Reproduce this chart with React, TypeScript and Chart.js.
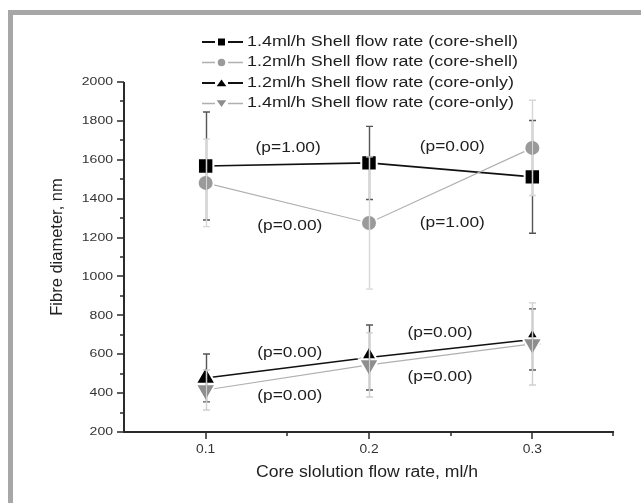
import React, { useEffect, useRef } from "react";
import { Chart, registerables } from "chart.js";

Chart.register(...registerables);

// ---------- data ----------
const xValues = [0.1, 0.2, 0.3];

const seriesLabels = [
  "1.4ml/h Shell flow rate (core-shell)",
  "1.2ml/h Shell flow rate (core-shell)",
  "1.2ml/h Shell flow rate (core-only)",
  "1.4ml/h Shell flow rate (core-only)",
];

const shell14CoreShell = [1568, 1584, 1512];
const shell14CoreShellErr = [278, 188, 290];
const shell12CoreShell = [1481, 1275, 1661];
const shell12CoreShellErr = [225, 340, 245];
const shell12CoreOnly = [478, 583, 676];
const shell12CoreOnlyErr = [123, 167, 157];
const shell14CoreOnly = [416, 545, 653];
const shell14CoreOnlyErr = [103, 165, 211];

const yTickValues = [200, 400, 600, 800, 1000, 1200, 1400, 1600, 1800, 2000];
const yMinorValues = [300, 500, 700, 900, 1100, 1300, 1500, 1700, 1900];
const xTickValues = [0.1, 0.2, 0.3];
const xMinorValues = [0.15, 0.25, 0.35];

const pLabels = ["(p=1.00)", "(p=0.00)", "(p=0.00)", "(p=1.00)", "(p=0.00)", "(p=0.00)", "(p=0.00)", "(p=0.00)"];
const pLabelX = [0.1505, 0.251, 0.1515, 0.251, 0.2435, 0.1515, 0.2435, 0.1515];
const pLabelY = [1660, 1666, 1259, 1275, 709, 606, 483, 385];

const xTitle = "Core slolution flow rate, ml/h";
const yTitle = "Fibre diameter, nm";

// ---------- styles ----------
const FONT = "'Liberation Sans', Arial, Helvetica, sans-serif";
const seriesStyles = [
  { line: "#111111", lineWidth: 1.6, fill: "#000000", shape: "rect", radius: 10.9, errColor: "#555555" },
  { line: "#b0b0b0", lineWidth: 1.2, fill: "#9a9a9a", shape: "circle", radius: 8, errColor: "#d6d6d6" },
  { line: "#111111", lineWidth: 1.6, fill: "#000000", shape: "triangle", radius: 11.5, errColor: "#555555" },
  { line: "#b0b0b0", lineWidth: 1.2, fill: "#8e8e8e", shape: "triangleDown", radius: 11.5, errColor: "#cfcfcf" },
];

const seriesValues = [shell14CoreShell, shell12CoreShell, shell12CoreOnly, shell14CoreOnly];
const seriesErrors = [shell14CoreShellErr, shell12CoreShellErr, shell12CoreOnlyErr, shell14CoreOnlyErr];

function drawText(ctx: CanvasRenderingContext2D, text: string, x: number, y: number, font: string, sx: number, align: string, color: string) {
  ctx.save();
  ctx.font = font;
  ctx.fillStyle = color;
  ctx.textBaseline = "middle";
  ctx.textAlign = "left";
  const w = ctx.measureText(text).width * sx;
  const left = align === "center" ? x - w / 2 : align === "right" ? x - w : x;
  ctx.translate(left, y);
  ctx.scale(sx, 1);
  ctx.fillText(text, 0, 0);
  ctx.restore();
}

function drawMarker(ctx: CanvasRenderingContext2D, shape: string, x: number, y: number, s: number, color: string) {
  ctx.save();
  ctx.fillStyle = color;
  ctx.beginPath();
  if (shape === "rect") {
    ctx.rect(x - s / 2, y - s / 2, s, s);
  } else if (shape === "circle") {
    ctx.arc(x, y, s / 2, 0, Math.PI * 2);
  } else if (shape === "triangle") {
    ctx.moveTo(x, y - s * 0.45);
    ctx.lineTo(x + s * 0.6, y + s * 0.4);
    ctx.lineTo(x - s * 0.6, y + s * 0.4);
    ctx.closePath();
  } else {
    ctx.moveTo(x, y + s * 0.45);
    ctx.lineTo(x + s * 0.6, y - s * 0.4);
    ctx.lineTo(x - s * 0.6, y - s * 0.4);
    ctx.closePath();
  }
  ctx.fill();
  ctx.restore();
}

const framePlugin = {
  id: "frame",
  beforeDraw(chart: any) {
    const ctx = chart.ctx as CanvasRenderingContext2D;
    ctx.save();
    ctx.fillStyle = "#ffffff";
    ctx.fillRect(0, 0, chart.width, chart.height);
    ctx.fillStyle = "#a7a7a7";
    ctx.fillRect(8, 10, chart.width - 8, 5);
    ctx.fillRect(8, 10, 5, chart.height - 10);
    ctx.restore();
  },
};

const axesPlugin = {
  id: "axesDraw",
  afterDraw(chart: any) {
    const ctx = chart.ctx as CanvasRenderingContext2D;
    const xs = chart.scales.x;
    const ys = chart.scales.y;
    const area = chart.chartArea;
    ctx.save();
    ctx.strokeStyle = "#2a2a2a";
    ctx.lineWidth = 2;
    ctx.lineCap = "butt";
    ctx.beginPath();
    ctx.moveTo(area.left, area.top);
    ctx.lineTo(area.left, area.bottom);
    ctx.lineTo(area.right, area.bottom);
    ctx.stroke();
    ctx.lineWidth = 1.5;
    ctx.beginPath();
    yTickValues.forEach((v) => {
      const py = Math.round(ys.getPixelForValue(v));
      ctx.moveTo(area.left, py);
      ctx.lineTo(area.left - 7, py);
    });
    yMinorValues.forEach((v) => {
      const py = Math.round(ys.getPixelForValue(v));
      ctx.moveTo(area.left, py);
      ctx.lineTo(area.left - 4, py);
    });
    xTickValues.forEach((v) => {
      const px = Math.round(xs.getPixelForValue(v));
      ctx.moveTo(px, area.bottom);
      ctx.lineTo(px, area.bottom + 7);
    });
    xMinorValues.forEach((v) => {
      const px = Math.round(xs.getPixelForValue(v)) - (v >= 0.35 ? 1 : 0);
      ctx.moveTo(px, area.bottom);
      ctx.lineTo(px, area.bottom + 4);
    });
    ctx.stroke();
    ctx.restore();

    const tickFont = `11.5px ${FONT}`;
    yTickValues.forEach((v) => {
      drawText(ctx, String(v), area.left - 11, ys.getPixelForValue(v), tickFont, 1.22, "right", "#333333");
    });
    xTickValues.forEach((v) => {
      drawText(ctx, v.toFixed(1), xs.getPixelForValue(v), area.bottom + 18, `12px ${FONT}`, 1.15, "center", "#333333");
    });

    drawText(ctx, xTitle, (area.left + area.right) / 2 - 2, 473, `16px ${FONT}`, 1.1, "center", "#222222");
    ctx.save();
    ctx.translate(57, 247);
    ctx.rotate(-Math.PI / 2);
    drawText(ctx, yTitle, 0, 0, `16.5px ${FONT}`, 1.0, "center", "#222222");
    ctx.restore();

    pLabels.forEach((t, i) => {
      drawText(ctx, t, xs.getPixelForValue(pLabelX[i]), ys.getPixelForValue(pLabelY[i]), `14px ${FONT}`, 1.24, "center", "#1e1e1e");
    });

    const rowY = [42, 62.5, 83, 103.5];
    seriesLabels.forEach((lab, i) => {
      const st = seriesStyles[i];
      const y = rowY[i];
      ctx.save();
      ctx.strokeStyle = st.line;
      ctx.lineWidth = i % 2 === 0 ? 2 : 1.5;
      ctx.beginPath();
      ctx.moveTo(202, y);
      ctx.lineTo(215, y);
      ctx.moveTo(228, y);
      ctx.lineTo(243, y);
      ctx.stroke();
      ctx.restore();
      const ms = st.shape === "rect" ? 7 : st.shape === "circle" ? 7.5 : 8;
      drawMarker(ctx, st.shape, 221.5, y, ms, st.fill);
      drawText(ctx, lab, 247, y, `14px ${FONT}`, 1.28, "left", "#1e1e1e");
    });
  },
};

const errorBarPlugin = {
  id: "errorBars",
  afterDatasetsDraw(chart: any) {
    const ctx = chart.ctx as CanvasRenderingContext2D;
    const xs = chart.scales.x;
    const ys = chart.scales.y;
    const order = [0, 2, 1, 3];
    ctx.save();
    order.forEach((si) => {
      const st = seriesStyles[si];
      ctx.strokeStyle = st.errColor;
      ctx.lineWidth = 1.4;
      ctx.beginPath();
      seriesValues[si].forEach((v, j) => {
        const px = Math.round(xs.getPixelForValue(xValues[j])) + 0.5;
        const top = ys.getPixelForValue(v + seriesErrors[si][j]);
        const bot = ys.getPixelForValue(v - seriesErrors[si][j]);
        ctx.moveTo(px, top);
        ctx.lineTo(px, bot);
        ctx.moveTo(px - 3.5, top);
        ctx.lineTo(px + 3.5, top);
        ctx.moveTo(px - 3.5, bot);
        ctx.lineTo(px + 3.5, bot);
      });
      ctx.stroke();
    });
    ctx.restore();
  },
};

export default function App() {
  const canvasRef = useRef<HTMLCanvasElement | null>(null);

  useEffect(() => {
    if (!canvasRef.current) return;
    const datasets = seriesLabels.map((label, i) => {
      const st = seriesStyles[i];
      return {
        label,
        data: xValues.map((x, j) => ({ x, y: seriesValues[i][j] })),
        borderColor: st.line,
        borderWidth: st.lineWidth,
        backgroundColor: st.fill,
        pointBackgroundColor: st.fill,
        pointBorderColor: "#ffffff",
        pointBorderWidth: 2,
        pointRadius: st.radius,
        pointStyle: st.shape === "triangleDown" ? "triangle" : st.shape,
        pointRotation: st.shape === "triangleDown" ? 180 : 0,
        tension: 0,
        fill: false,
        clip: false as any,
        order: [3, 2, 1, 0][i],
      };
    });
    const chart = new Chart(canvasRef.current, {
      type: "line",
      data: { datasets },
      options: {
        animation: false,
        responsive: false,
        events: [],
        layout: { padding: { left: 124, right: 27, top: 82, bottom: 71 } },
        plugins: { legend: { display: false }, tooltip: { enabled: false } },
        scales: {
          x: { type: "linear", min: 0.05, max: 0.35, display: false },
          y: { type: "linear", min: 200, max: 2000, display: false },
        },
      },
      plugins: [framePlugin, errorBarPlugin, axesPlugin],
    } as any);
    return () => chart.destroy();
  }, []);

  return (
    <div style={{ position: "absolute", left: 0, top: 0, width: 641, height: 503, background: "#fff" }}>
      <canvas ref={canvasRef} width={641} height={503} style={{ display: "block" }} />
    </div>
  );
}
